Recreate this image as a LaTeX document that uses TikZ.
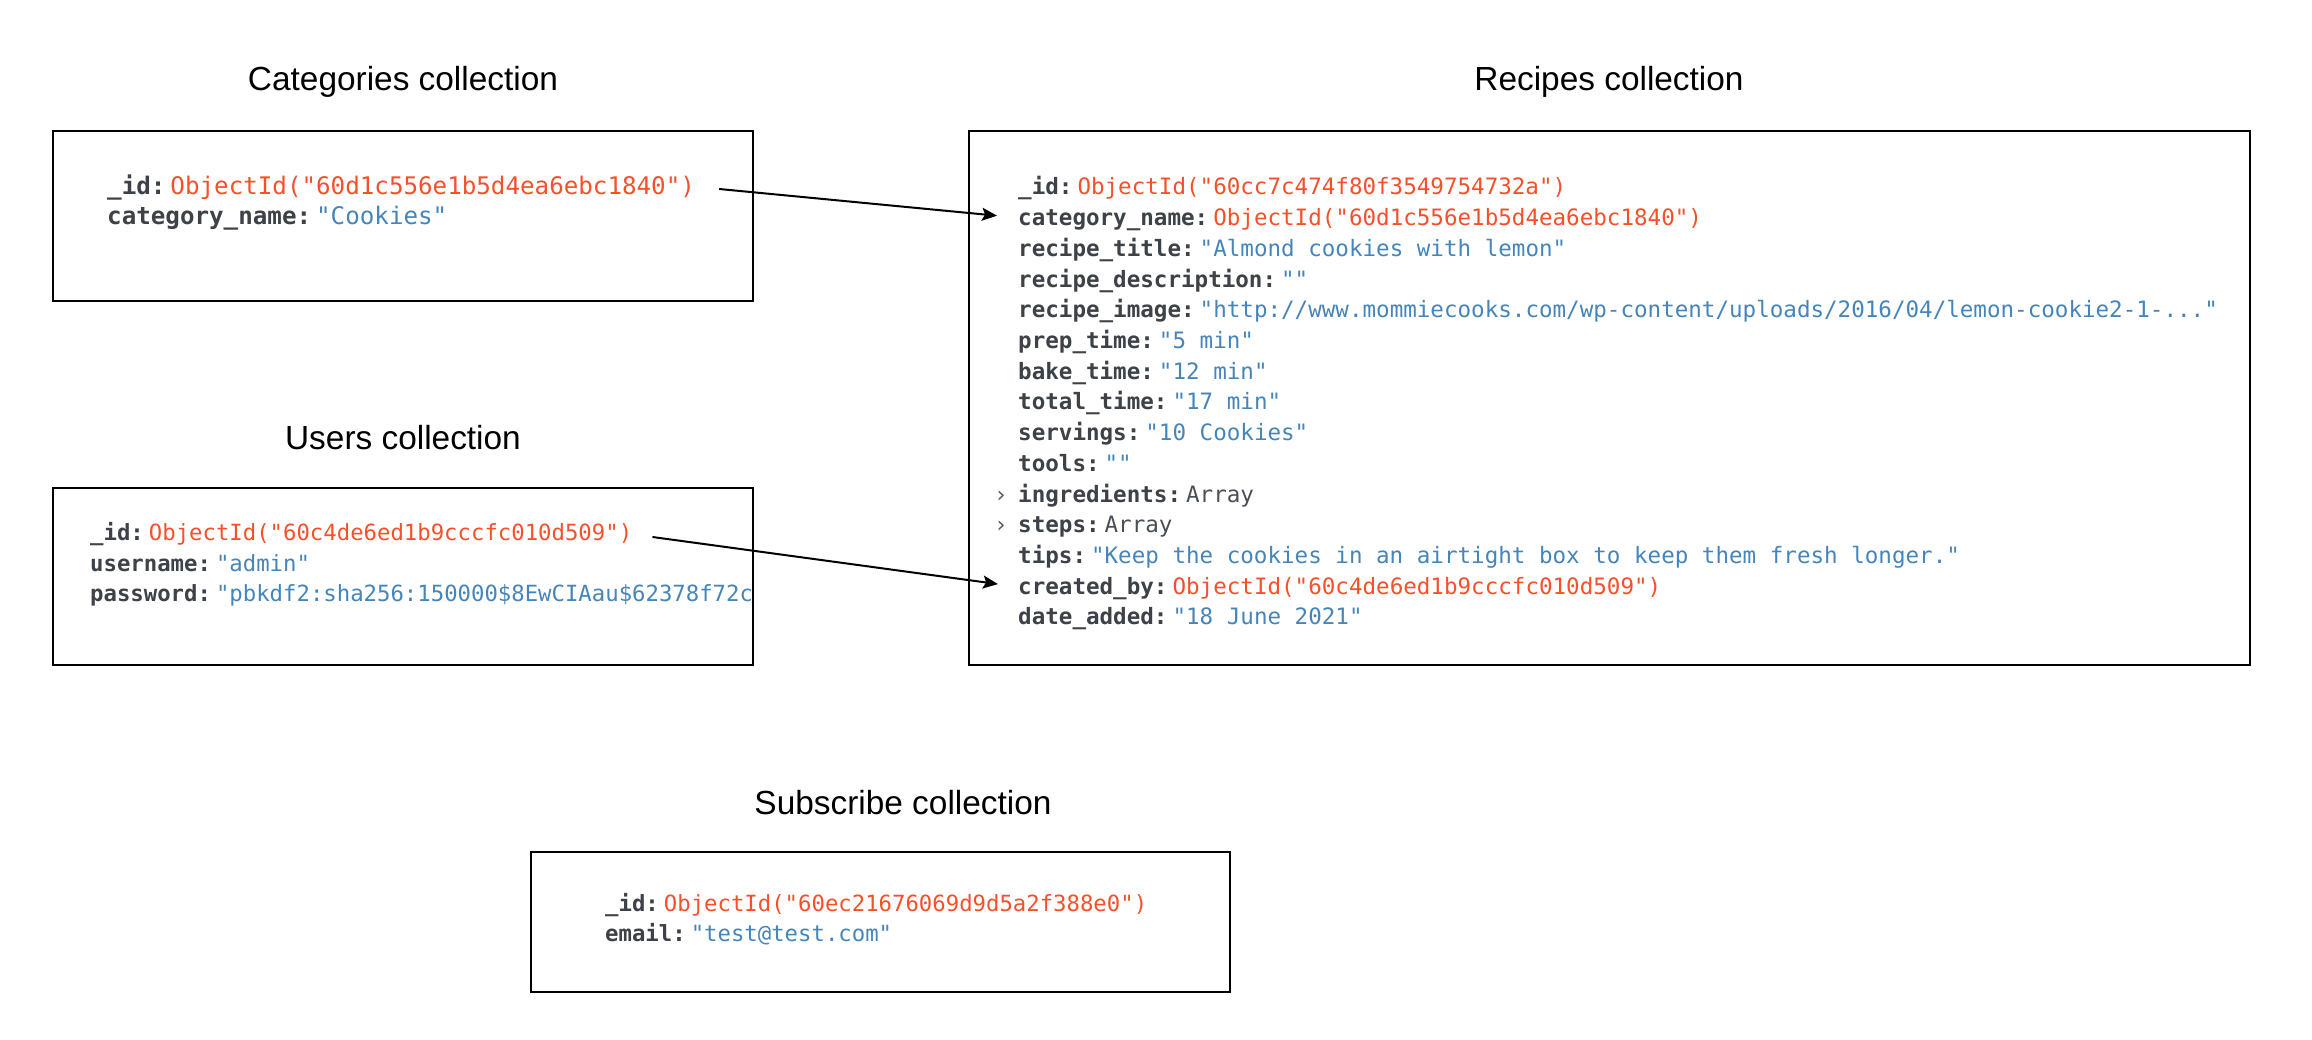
\documentclass[tikz,border=0pt]{standalone}
\usepackage{fontspec}
\setmainfont{Liberation Sans}
\newfontfamily\monof{DejaVu Sans Mono}
\usetikzlibrary{arrows.meta,calc}
\definecolor{keyc}{HTML}{3D4248}
\definecolor{idc}{HTML}{F5502A}
\definecolor{strc}{HTML}{4585B9}
\definecolor{arrc}{HTML}{4A4F55}
\definecolor{chevc}{HTML}{555A60}
\newcommand\kk[1]{{\bfseries\color{keyc}#1}\hspace{5pt}}
\newcommand\vid[1]{\textcolor{idc}{ObjectId("#1")}}
\newcommand\vs[1]{\textcolor{strc}{"#1"}}
\newcommand\varr{\textcolor{arrc}{Array}}
\begin{document}
\begin{tikzpicture}[x=1pt,y=-1pt,
  boxst/.style={draw=black, line width=2.6pt, inner sep=0pt, outer sep=0pt, anchor=north west},
  title/.style={font=\fontsize{33.4}{40}\selectfont, anchor=base, inner sep=0pt},
  ln/.style={font=\monof\fontsize{22.3}{26}\selectfont, anchor=base west, inner sep=0pt},
  lnr/.style={ln, font=\monof\fontsize{22.55}{26}\selectfont},
  lnbig/.style={ln, font=\monof\fontsize{24.2}{28}\selectfont},
  chev/.style={lnr, anchor=base, text=chevc},
  conn/.style={-{Stealth[length=15pt,width=13pt,inset=3pt]}, line width=2pt, black}]
\useasboundingbox (0,0) rectangle (2312,1040);

% boxes
\node[boxst, minimum width=700pt, minimum height=170pt] (cbox) at (53,131) {};
\node[boxst, minimum width=700pt, minimum height=177pt] (ubox) at (53,488) {};
\node[boxst, minimum width=1281pt, minimum height=534pt] (rbox) at (969,131) {};
\node[boxst, minimum width=699pt, minimum height=140pt] (sbox) at (531,852) {};

% titles
\node[title] (ctitle) at (403,91) {Categories collection};
\node[title] (utitle) at (403,449) {Users collection};
\node[title] (rtitle) at (1609,91) {Recipes collection};
\node[title] (stitle) at (903,814) {Subscribe collection};

% categories
\node[lnbig] (c1) at (107,195) {\kk{\_id:}\vid{60d1c556e1b5d4ea6ebc1840}};
\node[lnbig] (c2) at (107,225) {\kk{category\_name:}\vs{Cookies}};

% users
\node[ln] (u1) at (90,540) {\kk{\_id:}\vid{60c4de6ed1b9cccfc010d509}};
\node[ln] (u2) at (90,571) {\kk{username:}\vs{admin}};
\begin{scope}
\clip (ubox.north west) rectangle (ubox.south east);
\node[ln] (u3) at (90,601) {\kk{password:}\textcolor{strc}{"pbkdf2:sha256:150000\$8EwCIAau\$62378f72c0}};
\end{scope}

% recipes
\node[lnr] (r1) at (1018,195.0) {\kk{\_id:}\vid{60cc7c474f80f3549754732a}};
\node[lnr] (r2) at (1018,225.7) {\kk{category\_name:}\vid{60d1c556e1b5d4ea6ebc1840}};
\node[lnr] (r3) at (1018,256.4) {\kk{recipe\_title:}\vs{Almond cookies with lemon}};
\node[lnr] (r4) at (1018,287.1) {\kk{recipe\_description:}\vs{}};
\node[lnr] (r5) at (1018,317.8) {\kk{recipe\_image:}\vs{http://www.mommiecooks.com/wp-content/uploads/2016/04/lemon-cookie2-1-...}};
\node[lnr] (r6) at (1018,348.5) {\kk{prep\_time:}\vs{5 min}};
\node[lnr] (r7) at (1018,379.2) {\kk{bake\_time:}\vs{12 min}};
\node[lnr] (r8) at (1018,409.9) {\kk{total\_time:}\vs{17 min}};
\node[lnr] (r9) at (1018,440.6) {\kk{servings:}\vs{10 Cookies}};
\node[lnr] (r10) at (1018,471.3) {\kk{tools:}\vs{}};
\node[lnr] (r11) at (1018,502.0) {\kk{ingredients:}\varr};
\node[lnr] (r12) at (1018,532.7) {\kk{steps:}\varr};
\node[lnr] (r13) at (1018,563.4) {\kk{tips:}\vs{Keep the cookies in an airtight box to keep them fresh longer.}};
\node[lnr] (r14) at (1018,594.1) {\kk{created\_by:}\vid{60c4de6ed1b9cccfc010d509}};
\node[lnr] (r15) at (1018,624.8) {\kk{date\_added:}\vs{18 June 2021}};
\node[chev] (ch1) at (1001,502.0) {›};
\node[chev] (ch2) at (1001,532.7) {›};

% subscribe
\node[ln] (s1) at (605,911) {\kk{\_id:}\vid{60ec21676069d9d5a2f388e0}};
\node[ln] (s2) at (605,941) {\kk{email:}\vs{test@test.com}};

% connectors
\draw[conn] ($(c1.base east)+(24,-6)$) -- ($(r2.base west)+(-21,-10)$);
\draw[conn] ($(u1.base east)+(20,-3)$) -- ($(r14.base west)+(-20,-10)$);
\end{tikzpicture}
\end{document}
